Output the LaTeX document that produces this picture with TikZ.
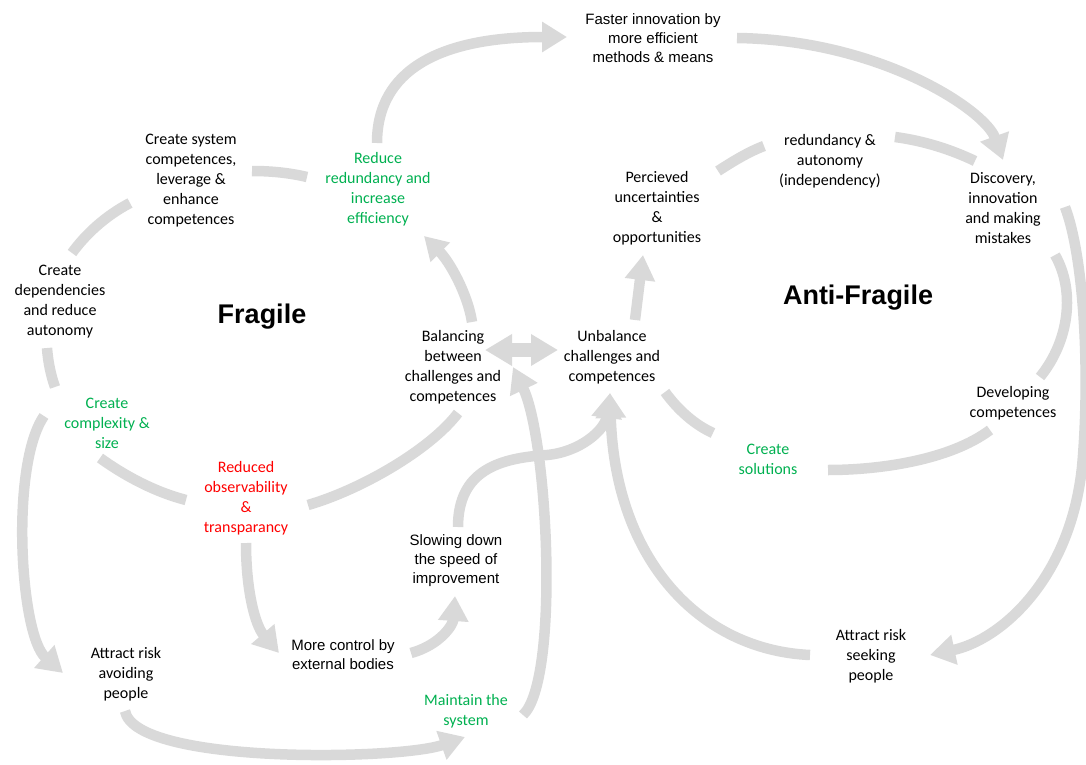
\documentclass[tikz,border=0pt]{standalone}
\usepackage{fontspec}
\setmainfont{Carlito}
\newfontfamily\arialfont{Liberation Sans}
\usetikzlibrary{arrows.meta,calc}
\definecolor{flowgray}{HTML}{D9D9D9}
\definecolor{lblgreen}{HTML}{00B050}
\definecolor{lblred}{HTML}{FF0000}
\begin{document}
\begin{tikzpicture}[x=1pt,y=-1pt,
  lbl/.style={align=center,inner sep=0pt,font=\fontsize{16}{20}\selectfont},
  albl/.style={align=center,inner sep=0pt,font=\arialfont\fontsize{15}{19}\selectfont},
  title/.style={inner sep=0pt,font=\arialfont\bfseries\fontsize{27}{32}\selectfont},
  good/.style={lbl,text=lblgreen},
  bad/.style={lbl,text=lblred},
  flow/.style={color=flowgray,line width=10.5pt},
  flowarrow/.style={flow,-{Triangle[length=25pt,width=29pt]}},
]
\useasboundingbox (0,0) rectangle (1086,765);

% ---- labels ----
\node[albl] (fast) at (653,38) {Faster innovation by\\more efficient\\methods \& means};
\node[lbl] (csys) at (191,181) {Create system\\competences,\\leverage \&\\enhance\\competences};
\node[good] (reduce) at (378,189) {Reduce\\redundancy and\\increase\\efficiency};
\node[lbl] (cdep) at (60,302) {Create\\dependencies\\and reduce\\autonomy};
\node[title] (fragile) at (262,317) {Fragile};
\node[good] (cplx) at (107,423) {Create\\complexity \&\\size};
\node[bad] (robs) at (246,498) {Reduced\\observability\\\&\\transparancy};
\node[lbl] (bal) at (453,367) {Balancing\\between\\challenges and\\competences};
\node[lbl] (unbal) at (612,357) {Unbalance\\challenges and\\competences};
\node[lbl] (perc) at (657,208) {Percieved\\uncertainties\\\&\\opportunities};
\node[lbl] (redaut) at (830,161) {redundancy \&\\autonomy\\(independency)};
\node[lbl] (disc) at (1003,208) {Discovery,\\innovation\\and making\\mistakes};
\node[title] (anti) at (858,298) {Anti-Fragile};
\node[lbl] (dev) at (1013,403) {Developing\\competences};
\node[good] (csol) at (768,459) {Create\\solutions};
\node[albl] (slow) at (456,561) {Slowing down\\the speed of\\improvement};
\node[albl] (ctrl) at (343,655) {More control by\\external bodies};
\node[lbl] (avoid) at (126,674) {Attract risk\\avoiding\\people};
\node[good] (maint) at (466,711) {Maintain the\\system};
\node[lbl] (seek) at (871,656) {Attract risk\\seeking\\people};

% ---- fragile loop ----
\draw[flow] ($(csys)+(61,-10)$) .. controls (272,171) and (290,173) .. ($(reduce)+(-71,-12)$);
\draw[flow] ($(csys)+(-61,22)$) .. controls (105,216) and (85,235) .. ($(cdep)+(12,-49)$);
\draw[flow] ($(cdep)+(-13,46)$) .. controls (48,362) and (51,376) .. ($(cplx)+(-52,-36)$);
\draw[flow] ($(cplx)+(-7,35)$) .. controls (125,476) and (155,492) .. ($(robs)+(-60,2)$);
\draw[flow] ($(robs)+(62,7)$) .. controls (360,490) and (430,450) .. ($(bal)+(5,46)$);
\draw[flow,-{Triangle[length=23pt,width=26pt]}] ($(bal)+(19,-45)$) .. controls (468,295) and (450,262) .. ($(reduce)+(46,47)$);

% ---- anti-fragile loop ----
\draw[flowarrow] ($(unbal)+(23,-37)$) -- ($(perc)+(-14,47)$);
\draw[flow] ($(perc)+(61,-37)$) .. controls (732,162) and (748,152) .. ($(redaut)+(-66,-15)$);
\draw[flow] ($(redaut)+(65,-24)$) .. controls (925,141) and (952,150) .. ($(disc)+(-28,-47)$);
\draw[flow] ($(disc)+(52,47)$) .. controls (1075,290) and (1070,340) .. ($(dev)+(27,-26)$);
\draw[flow] ($(dev)+(-23,27)$) .. controls (950,460) and (880,470) .. ($(csol)+(60,11)$);
\draw[flow] ($(csol)+(-55,-26)$) .. controls (695,425) and (678,410) .. ($(unbal)+(53,35)$);

% ---- links across the loops ----
\draw[flowarrow] ($(reduce)+(-1,-46)$) .. controls (377,70) and (440,37) .. ($(fast)+(-86,-1)$);
\draw[flowarrow] ($(fast)+(84,0)$) .. controls (880,40) and (985,110) .. ($(disc)+(0,-48)$);
\draw[flowarrow] ($(disc)+(62,-1)$) .. controls (1085,260) and (1090,380) .. (1082,467)
  .. controls (1070,580) and (1000,640) .. ($(seek)+(59,-1)$);
\draw[flowarrow] ($(seek)+(-61,-1)$) .. controls (700,650) and (615,560) .. ($(unbal)+(-2,36)$);
\draw[flowarrow] ($(slow)+(2,-34)$) .. controls (458,470) and (500,458) .. (547,455)
  .. controls (580,452) and (605,430) .. ($(unbal)+(-2,36)$);
\draw[flowarrow] ($(maint)+(57,4)$) .. controls (560,680) and (548,440) .. ($(bal)+(60,0)$);
\draw[flowarrow] ($(avoid)+(-1,37)$) .. controls (135,765) and (400,760) .. ($(maint)+(-1,26)$);
\draw[flowarrow] ($(ctrl)+(68,-2)$) .. controls (440,645) and (453,625) .. ($(slow)+(-1,35)$);
\draw[flowarrow] ($(robs)+(0,45)$) .. controls (246,590) and (255,625) .. ($(ctrl)+(-64,-2)$);
\draw[flowarrow] ($(cplx)+(-63,-7)$) .. controls (10,465) and (20,635) .. ($(avoid)+(-63,-1)$);
\draw[color=flowgray,line width=14pt,{Triangle[length=27pt,width=30pt]}-{Triangle[length=27pt,width=30pt]}]
  ($(bal)+(32,-17)$) -- ($(unbal)+(-54,-7)$);
\end{tikzpicture}
\end{document}
